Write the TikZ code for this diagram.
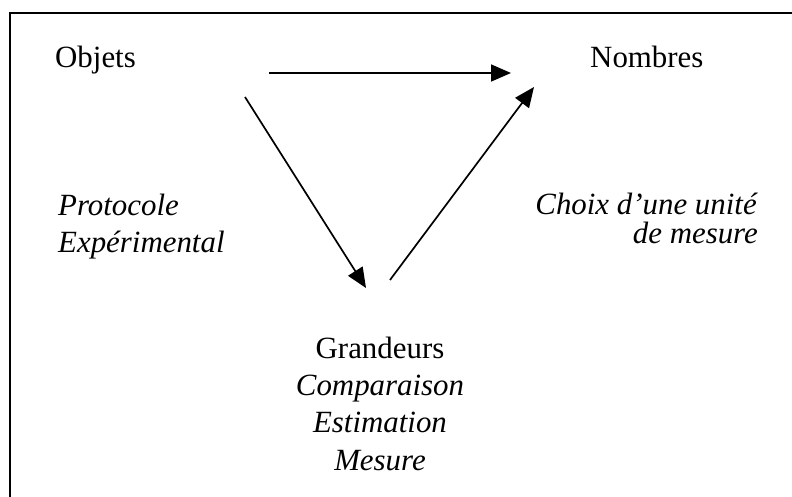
\documentclass[tikz,border=0pt]{standalone}
\usepackage{fontspec}
\setmainfont{Liberation Serif}
\usetikzlibrary{arrows.meta}
\begin{document}
\begin{tikzpicture}[x=1bp,y=-1bp,
  txt/.style={font=\fontsize{31}{37.5}\selectfont,inner sep=0pt},
  fleche/.style={-{Triangle[length=20bp,width=17bp]},line width=1.7bp}]
\useasboundingbox (0,0) rectangle (792,497);
% cadre (ouvert a droite et en bas)
\draw[line width=2.5bp] (10,497) -- (10,13) -- (792,13);
% sommets
\node[txt,anchor=base west] (objets) at (55,68) {Objets};
\node[txt,anchor=base west] (nombres) at (590,68) {Nombres};
\node[txt,font=\fontsize{31}{37.3}\selectfont,anchor=base,align=center] (grandeurs) at (380,470)
  {Grandeurs\\\textit{Comparaison}\\\textit{Estimation}\\\textit{Mesure}};
% etiquettes des cotes (base = derniere ligne)
\node[txt,font=\fontsize{31}{38}\selectfont,anchor=base west,align=left] (protocole) at (58,253)
  {\textit{Protocole}\\\textit{Expérimental}};
\node[txt,font=\fontsize{31}{30}\selectfont,anchor=base east,align=right] (choix) at (758,244)
  {\textit{Choix d’une unité}\\\textit{de mesure}};
% bouts des fleches
\coordinate (h1) at (269,73);
\coordinate (h2) at (511,73);
\coordinate (d1) at (245,97);
\coordinate (d2) at (366,288);
\coordinate (m1) at (390,280);
\coordinate (m2) at (534,87);
\draw[fleche] (h1) -- (h2);
\draw[fleche] (d1) -- (d2);
\draw[fleche] (m1) -- (m2);
\end{tikzpicture}
\end{document}
